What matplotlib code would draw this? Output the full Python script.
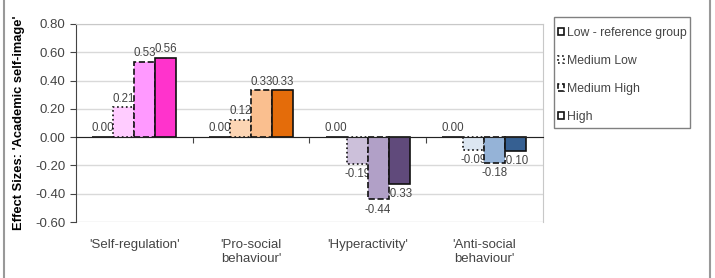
import matplotlib.pyplot as plt
import numpy as np
from matplotlib.patches import Patch, Rectangle
from matplotlib.lines import Line2D

plt.rcParams['font.family'] = ['Liberation Sans', 'DejaVu Sans']

categories = ["'Self-regulation'", "'Pro-social\nbehaviour'", "'Hyperactivity'", "'Anti-social\nbehaviour'"]
groups = ['Low - reference group', 'Medium Low', 'Medium High', 'High']
low = [0.00, 0.00, 0.00, 0.00]
medium_low = [0.21, 0.12, -0.19, -0.09]
medium_high = [0.53, 0.33, -0.44, -0.18]
high = [0.56, 0.33, -0.33, -0.10]
yticks = [-0.6, -0.4, -0.2, 0.0, 0.2, 0.4, 0.6, 0.8]

# colours per category: low, medium low, medium high, high
colours = [
    ['#FFE6FF', '#FFCCFF', '#FF99FF', '#FF33CC'],
    ['#FDE9D9', '#FCD5B4', '#FABF8F', '#E46C0A'],
    ['#E4DFEC', '#CCC0DA', '#B1A0C7', '#604A7B'],
    ['#EEF3F9', '#DCE6F1', '#95B3D7', '#366092'],
]
styles = ['-', ':', '--', '-']

fig = plt.figure(figsize=(7.15, 2.78), dpi=100)
ax = fig.add_axes([0.106, 0.201, 0.653, 0.713])

x = np.arange(len(categories))
w = 0.18
series = [low, medium_low, medium_high, high]
for j, vals in enumerate(series):
    xs = x + (j - 1.5) * w
    for i, v in enumerate(vals):
        ax.bar(xs[i], v, width=w, color=colours[i][j], edgecolor='#111111',
               linewidth=1.2, linestyle=styles[j], zorder=2)
        if v >= 0:
            ax.annotate(f'{v:.2f}', (xs[i], v), xytext=(0, 2), textcoords='offset points',
                        ha='center', va='bottom', fontsize=8.3, color='#444444', zorder=1)
        else:
            ax.annotate(f'{v:.2f}', (xs[i], v), xytext=(0, -3), textcoords='offset points',
                        ha='center', va='top', fontsize=8.3, color='#444444', zorder=1)

ax.set_xlim(-0.5, 3.5)
ax.set_ylim(-0.6, 0.8)
ax.set_yticks(yticks)
ax.set_yticklabels([f'{t:.2f}' for t in yticks], fontsize=9.5, color='#444444')
ax.yaxis.grid(True, color='#D9D9D9', linewidth=1, zorder=0)
ax.set_axisbelow(True)

ax.spines['bottom'].set_position(('data', 0))
ax.spines['bottom'].set_color('#222222')
ax.spines['left'].set_color('#444444')
ax.spines['top'].set_color('#C8C8C8')
ax.spines['right'].set_color('#C8C8C8')
ax.set_xticks([0.5, 1.5, 2.5])
ax.set_xticklabels([])
ax.tick_params(axis='x', length=4, color='#444444')
ax.tick_params(axis='y', length=4, color='#444444')

for i, c in enumerate(categories):
    ax.text(x[i], -0.085, c, transform=ax.get_xaxis_transform(), ha='center', va='top',
            fontsize=9.5, color='#444444', linespacing=1.25)

ax.set_ylabel("Effect Sizes: 'Academic self-image'", fontsize=9.3, fontweight='bold', labelpad=7)

# legend: frame drawn separately so its size matches the original box
fig.add_artist(Rectangle((0.7748, 0.5396), 0.1902, 0.3992, transform=fig.transFigure,
                         facecolor='white', edgecolor='#808080', linewidth=1.0, zorder=3))
handles = [Patch(facecolor='white', edgecolor='#111111', linestyle=s, linewidth=1.2) for s in styles]
leg = fig.legend(handles, groups, loc='upper left', bbox_to_anchor=(0.780, 0.902),
                 fontsize=8.8, frameon=False, handlelength=0.5, handleheight=0.5,
                 handletextpad=0.25, labelspacing=1.3, borderpad=0, borderaxespad=0)
leg.set_zorder(4)
for t in leg.get_texts():
    t.set_color('#444444')

# outer frame lines
fig.add_artist(Line2D([0.005, 0.005], [0, 1], color='#999999', linewidth=1.5, transform=fig.transFigure))
fig.add_artist(Line2D([0.993, 0.993], [0, 1], color='#999999', linewidth=1.5, transform=fig.transFigure))

fig.savefig('out.png', dpi=100)
